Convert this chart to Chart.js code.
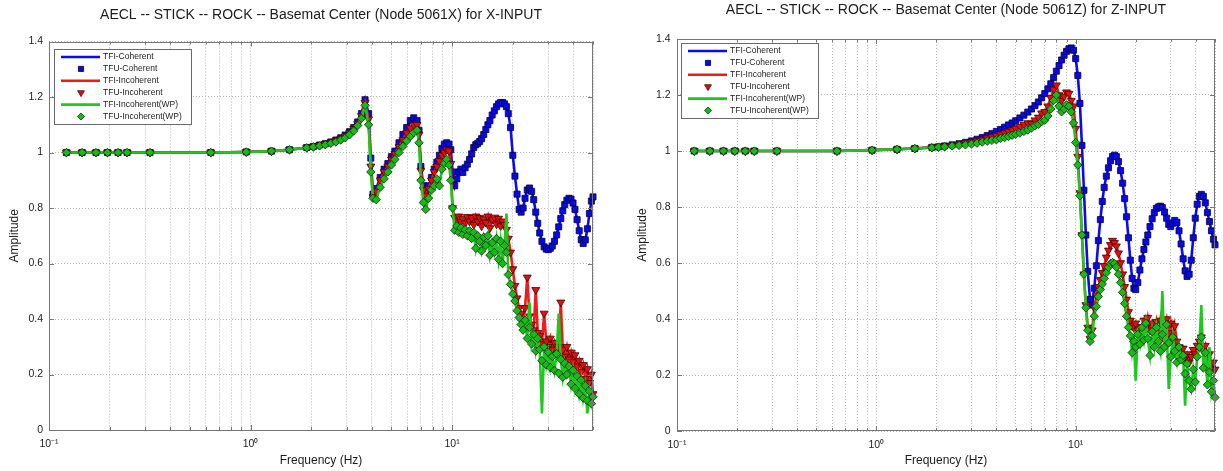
<!DOCTYPE html>
<html>
<head>
<meta charset="utf-8">
<title>AECL STICK ROCK - Basemat Center</title>
<script src="https://cdn.jsdelivr.net/npm/chart.js@4.4.1/dist/chart.umd.min.js"></script>
<style>
  html, body { margin: 0; padding: 0; background: #fff; }
  body { width: 1223px; height: 471px; position: relative; overflow: hidden; }
  canvas { position: absolute; top: 0; }
  #chartX { left: 0; }
  #chartZ { left: 610px; }
</style>
</head>
<body>
<canvas id="chartX" width="610" height="471"></canvas>
<canvas id="chartZ" width="613" height="471"></canvas>
<script>
// ---- data -------------------------------------------------------------
const seriesNames = ['TFI-Coherent', 'TFU-Coherent', 'TFI-Incoherent', 'TFU-Incoherent',
                     'TFI-Incoherent(WP)', 'TFU-Incoherent(WP)'];

const xTickValues = [0.1, 0.2, 0.3, 0.4, 0.5, 0.6, 0.7, 0.8, 0.9, 1, 2, 3, 4, 5, 6, 7, 8, 9,
                     10, 20, 30, 40, 50];
const decadeTicks = [0.1, 1, 10];
const decadeLabels = ['10⁻¹', '10⁰', '10¹'];

// X-INPUT, node 5061X
const freqX = [
  0.122, 0.146, 0.171, 0.195, 0.220, 0.244, 0.317, 0.635, 0.952, 1.27,
  1.56, 1.90, 2.05, 2.20, 2.35, 2.50, 2.65, 2.80, 2.95, 3.10,
  3.25, 3.40, 3.55, 3.70, 3.85, 3.95, 4.05, 4.20, 4.40, 4.60,
  4.80, 5.00, 5.20, 5.45, 5.70, 5.95, 6.20, 6.45, 6.70, 6.85,
  7.00, 7.20, 7.40, 7.65, 7.90, 8.15, 8.40, 8.65, 8.90, 9.15,
  9.40, 9.65, 9.85,
  10.05, 10.3, 10.55, 10.8, 11.05, 11.3, 11.6, 11.9, 12.2, 12.5,
  12.8, 13.1, 13.4, 13.7, 14.0, 14.35, 14.7, 15.05, 15.4, 15.8,
  16.2, 16.6, 17.0, 17.4, 17.8, 18.2, 18.6, 19.0, 19.5, 20.0,
  20.5, 21.0, 21.5, 22.0, 22.5, 23.0, 23.6, 24.2, 24.8, 25.4,
  26.0, 26.6, 27.2, 27.9, 28.6, 29.3, 30.0, 30.7, 31.4, 32.2,
  33.0, 33.8, 34.6, 35.4, 36.2, 37.1, 38.0, 38.9, 39.8, 40.7,
  41.7, 42.7, 43.7, 44.7, 45.8, 46.9, 48.0, 49.1, 50.0
];
const cohX = [
  1.000, 1.000, 1.000, 1.000, 1.000, 1.000, 1.000, 1.000, 1.002, 1.005,
  1.010, 1.018, 1.022, 1.027, 1.032, 1.038, 1.045, 1.053, 1.063, 1.075,
  1.090, 1.110, 1.140, 1.190, 1.140, 0.980, 0.850, 0.870, 0.910, 0.940,
  0.960, 0.985, 1.005, 1.035, 1.065, 1.090, 1.115, 1.125, 1.115, 1.080,
  0.950, 0.880, 0.855, 0.880, 0.910, 0.940, 0.965, 0.990, 1.015, 1.030,
  1.035, 1.030, 1.010,
  0.930, 0.880, 0.905, 0.930, 0.940, 0.928, 0.945, 0.958, 0.975, 0.995,
  1.018, 1.028, 1.033, 1.040, 1.050, 1.065, 1.083, 1.100, 1.115, 1.135,
  1.150, 1.165, 1.175, 1.180, 1.180, 1.175, 1.165, 1.140, 1.090, 0.990,
  0.915, 0.850, 0.795, 0.785, 0.800, 0.835, 0.865, 0.872, 0.860, 0.830,
  0.785, 0.745, 0.710, 0.680, 0.660, 0.652, 0.650, 0.655, 0.663, 0.680,
  0.703, 0.732, 0.762, 0.790, 0.812, 0.828, 0.835, 0.832, 0.818, 0.795,
  0.758, 0.718, 0.686, 0.672, 0.685, 0.725, 0.780, 0.825, 0.840
];
const incX = [
  1.000, 1.000, 1.000, 1.000, 1.000, 1.000, 1.000, 1.000, 1.002, 1.005,
  1.010, 1.018, 1.021, 1.026, 1.031, 1.036, 1.042, 1.049, 1.058, 1.070,
  1.085, 1.103, 1.132, 1.180, 1.120, 0.950, 0.840, 0.860, 0.900, 0.930,
  0.950, 0.975, 0.995, 1.020, 1.045, 1.070, 1.088, 1.100, 1.100, 1.065,
  0.935, 0.865, 0.845, 0.870, 0.900, 0.930, 0.950, 0.970, 0.990, 1.000,
  1.010, 1.005, 0.960,
  0.800, 0.765, 0.755, 0.770, 0.750, 0.762, 0.745, 0.768, 0.752, 0.765,
  0.740, 0.770, 0.752, 0.765, 0.735, 0.760, 0.748, 0.770, 0.728, 0.758,
  0.766, 0.742, 0.762, 0.735, 0.752, 0.740, 0.722, 0.690, 0.640, 0.580,
  0.520, 0.475, 0.440, 0.420, 0.395, 0.440, 0.550, 0.410, 0.380, 0.360,
  0.505, 0.350, 0.340, 0.310, 0.420, 0.320, 0.300, 0.330, 0.290, 0.315,
  0.275, 0.300, 0.460, 0.290, 0.265, 0.300, 0.255, 0.280, 0.245, 0.270,
  0.230, 0.250, 0.210, 0.235, 0.185, 0.220, 0.170, 0.200, 0.130
];
const wpLineX = [
  1.000, 1.000, 1.000, 1.000, 1.000, 1.000, 1.000, 1.000, 1.002, 1.005,
  1.010, 1.017, 1.020, 1.024, 1.028, 1.033, 1.038, 1.045, 1.053, 1.064,
  1.078, 1.097, 1.123, 1.170, 1.100, 0.930, 0.835, 0.830, 0.875, 0.905,
  0.930, 0.955, 0.975, 1.000, 1.022, 1.042, 1.058, 1.072, 1.080, 1.035,
  0.900, 0.820, 0.795, 0.835, 0.865, 0.880, 0.905, 0.880, 0.940, 0.960,
  0.975, 0.955, 0.900,
  0.800, 0.720, 0.735, 0.712, 0.728, 0.705, 0.722, 0.700, 0.718, 0.690,
  0.712, 0.655, 0.700, 0.680, 0.645, 0.695, 0.665, 0.700, 0.630, 0.675,
  0.640, 0.690, 0.615, 0.680, 0.600, 0.665, 0.780, 0.560, 0.525, 0.490,
  0.465, 0.430, 0.405, 0.380, 0.360, 0.395, 0.330, 0.460, 0.310, 0.345,
  0.285, 0.330, 0.290, 0.060, 0.300, 0.235, 0.280, 0.225, 0.265, 0.215,
  0.275, 0.420, 0.255, 0.190, 0.240, 0.200, 0.230, 0.165, 0.215, 0.150,
  0.195, 0.130, 0.180, 0.115, 0.160, 0.060, 0.140, 0.095, 0.120
];
const wpX = [
  1.000, 1.000, 1.000, 1.000, 1.000, 1.000, 1.000, 1.000, 1.002, 1.005,
  1.010, 1.017, 1.020, 1.024, 1.028, 1.033, 1.038, 1.045, 1.053, 1.064,
  1.078, 1.097, 1.123, 1.170, 1.100, 0.930, 0.835, 0.830, 0.875, 0.905,
  0.930, 0.955, 0.975, 1.000, 1.022, 1.042, 1.058, 1.072, 1.080, 1.035,
  0.900, 0.820, 0.795, 0.835, 0.865, 0.880, 0.905, 0.880, 0.940, 0.960,
  0.975, 0.955, 0.900,
  0.800, 0.720, 0.735, 0.712, 0.728, 0.705, 0.722, 0.700, 0.718, 0.690,
  0.712, 0.655, 0.700, 0.680, 0.645, 0.695, 0.665, 0.700, 0.630, 0.675,
  0.640, 0.690, 0.615, 0.680, 0.600, 0.665, 0.640, 0.560, 0.525, 0.490,
  0.465, 0.430, 0.405, 0.380, 0.360, 0.395, 0.330, 0.370, 0.310, 0.345,
  0.285, 0.330, 0.290, 0.250, 0.300, 0.235, 0.280, 0.225, 0.265, 0.215,
  0.275, 0.205, 0.255, 0.190, 0.240, 0.200, 0.230, 0.165, 0.215, 0.150,
  0.195, 0.130, 0.180, 0.115, 0.160, 0.105, 0.140, 0.095, 0.120
];

// Z-INPUT, node 5061Z
const freqZ = [
  0.122, 0.146, 0.171, 0.195, 0.220, 0.244, 0.317, 0.635, 0.952, 1.27,
  1.56, 1.90, 2.05, 2.20, 2.40, 2.60, 2.80, 3.00, 3.20, 3.40,
  3.60, 3.80, 4.00, 4.20, 4.40, 4.60, 4.80, 5.00, 5.25, 5.50,
  5.75, 6.00, 6.25, 6.50, 6.75, 7.00, 7.25, 7.50, 7.75, 8.00,
  8.25, 8.50, 8.75, 9.00, 9.25, 9.50, 9.75, 10.0, 10.25, 10.5,
  10.75, 11.0, 11.25, 11.5, 11.8, 12.1,
  12.4, 12.7, 13.0, 13.3, 13.6, 13.9, 14.25, 14.6, 14.95, 15.3,
  15.65, 16.0, 16.4, 16.8, 17.2, 17.6, 18.0, 18.4, 18.8, 19.2,
  19.6, 20.0, 20.5, 21.0, 21.5, 22.0, 22.5, 23.0, 23.6, 24.2,
  24.8, 25.4, 26.0, 26.6, 27.2, 27.9, 28.6, 29.3, 30.0, 30.7,
  31.4, 32.2, 33.0, 33.8, 34.6, 35.4, 36.2, 37.1, 38.0, 38.9,
  39.8, 40.7, 41.7, 42.7, 43.7, 44.7, 45.8, 46.9, 48.0, 49.1,
  50.0
];
const cohZ = [
  1.000, 1.000, 1.000, 1.000, 1.000, 1.000, 1.000, 1.000, 1.003, 1.006,
  1.009, 1.013, 1.015, 1.018, 1.022, 1.026, 1.031, 1.036, 1.042, 1.048,
  1.055, 1.062, 1.070, 1.077, 1.085, 1.093, 1.100, 1.108, 1.118, 1.128,
  1.139, 1.150, 1.162, 1.175, 1.190, 1.205, 1.222, 1.240, 1.262, 1.285,
  1.305, 1.325, 1.342, 1.356, 1.365, 1.368, 1.360, 1.330, 1.270, 1.170,
  1.020, 0.860, 0.700, 0.570, 0.470, 0.450,
  0.510, 0.590, 0.680, 0.755, 0.820, 0.870, 0.910, 0.940, 0.965, 0.980,
  0.985, 0.980, 0.962, 0.930, 0.885, 0.830, 0.765, 0.690, 0.610, 0.545,
  0.510, 0.505, 0.530, 0.575, 0.615, 0.648, 0.675, 0.700, 0.730, 0.758,
  0.780, 0.795, 0.800, 0.803, 0.798, 0.782, 0.760, 0.738, 0.730, 0.742,
  0.752, 0.745, 0.715, 0.668, 0.615, 0.572, 0.552, 0.560, 0.610, 0.690,
  0.760, 0.810, 0.838, 0.845, 0.838, 0.815, 0.780, 0.748, 0.715, 0.685,
  0.665
];
const incZ = [
  1.000, 1.000, 1.000, 1.000, 1.000, 1.000, 1.000, 1.000, 1.003, 1.006,
  1.009, 1.013, 1.015, 1.017, 1.020, 1.024, 1.028, 1.032, 1.037, 1.041,
  1.046, 1.050, 1.055, 1.060, 1.065, 1.070, 1.075, 1.080, 1.087, 1.094,
  1.100, 1.098, 1.110, 1.120, 1.135, 1.140, 1.160, 1.190, 1.220, 1.235,
  1.200, 1.180, 1.195, 1.210, 1.205, 1.180, 1.160, 1.080, 0.980, 0.850,
  0.700, 0.560, 0.450, 0.370, 0.330, 0.360,
  0.440, 0.485, 0.515, 0.540, 0.565, 0.590, 0.620, 0.645, 0.665, 0.680,
  0.672, 0.660, 0.635, 0.600, 0.560, 0.515, 0.470, 0.425, 0.395, 0.375,
  0.368, 0.385, 0.360, 0.340, 0.372, 0.395, 0.370, 0.405, 0.360, 0.385,
  0.350, 0.390, 0.340, 0.395, 0.335, 0.370, 0.400, 0.350, 0.385, 0.330,
  0.375, 0.320, 0.300, 0.280, 0.295, 0.260, 0.275, 0.245, 0.265, 0.290,
  0.275, 0.305, 0.320, 0.335, 0.285, 0.305, 0.255, 0.275, 0.225, 0.245,
  0.220
];
const wpLineZ = [
  1.000, 1.000, 1.000, 1.000, 1.000, 1.000, 1.000, 1.000, 1.003, 1.006,
  1.009, 1.012, 1.014, 1.015, 1.018, 1.020, 1.022, 1.025, 1.028, 1.032,
  1.035, 1.038, 1.040, 1.045, 1.048, 1.052, 1.056, 1.060, 1.064, 1.070,
  1.075, 1.082, 1.090, 1.095, 1.105, 1.110, 1.125, 1.150, 1.180, 1.200,
  1.160, 1.140, 1.150, 1.165, 1.160, 1.140, 1.100, 1.030, 0.950, 0.840,
  0.700, 0.560, 0.440, 0.360, 0.320, 0.340,
  0.410, 0.445, 0.480, 0.505, 0.525, 0.545, 0.565, 0.585, 0.598, 0.602,
  0.598, 0.585, 0.560, 0.530, 0.495, 0.455, 0.410, 0.370, 0.340, 0.280,
  0.320, 0.180, 0.345, 0.310, 0.370, 0.325, 0.385, 0.330, 0.270, 0.355,
  0.300, 0.370, 0.320, 0.285, 0.500, 0.300, 0.380, 0.150, 0.265, 0.335,
  0.285, 0.245, 0.300, 0.255, 0.270, 0.090, 0.240, 0.180, 0.150, 0.220,
  0.175, 0.265, 0.300, 0.450, 0.225, 0.280, 0.165, 0.300, 0.140, 0.180,
  0.120
];
const wpZ = [
  1.000, 1.000, 1.000, 1.000, 1.000, 1.000, 1.000, 1.000, 1.003, 1.006,
  1.009, 1.012, 1.014, 1.015, 1.018, 1.020, 1.022, 1.025, 1.028, 1.032,
  1.035, 1.038, 1.040, 1.045, 1.048, 1.052, 1.056, 1.060, 1.064, 1.070,
  1.075, 1.082, 1.090, 1.095, 1.105, 1.110, 1.125, 1.150, 1.180, 1.200,
  1.160, 1.140, 1.150, 1.165, 1.160, 1.140, 1.100, 1.030, 0.950, 0.840,
  0.700, 0.560, 0.440, 0.360, 0.320, 0.340,
  0.410, 0.445, 0.480, 0.505, 0.525, 0.545, 0.565, 0.585, 0.598, 0.602,
  0.598, 0.585, 0.560, 0.530, 0.495, 0.455, 0.410, 0.370, 0.340, 0.280,
  0.320, 0.300, 0.345, 0.310, 0.370, 0.325, 0.385, 0.330, 0.270, 0.355,
  0.300, 0.370, 0.320, 0.285, 0.345, 0.300, 0.380, 0.315, 0.265, 0.335,
  0.285, 0.245, 0.300, 0.255, 0.270, 0.205, 0.240, 0.180, 0.150, 0.220,
  0.175, 0.265, 0.300, 0.335, 0.225, 0.280, 0.165, 0.210, 0.140, 0.180,
  0.120
];

// ---- styling ----------------------------------------------------------
const FONT = '"Liberation Sans", Arial, Helvetica, sans-serif';
const TEXT = '#1c1c1c';
const GRID = '#b4b4b4';
const FRAME = '#767676';
Chart.defaults.font.family = FONT;

// MATLAB-like axes box with inward tick marks
const axesFrame = {
  id: 'axesFrame',
  afterDatasetsDraw(chart) {
    const { ctx, chartArea: a, scales: { x, y } } = chart;
    ctx.save();
    ctx.strokeStyle = FRAME;
    ctx.lineWidth = 1;
    ctx.beginPath();
    x.ticks.forEach(t => {
      const px = Math.round(x.getPixelForValue(t.value)) + 0.5;
      const len = decadeTicks.includes(t.value) ? 5 : 3;
      ctx.moveTo(px, a.bottom); ctx.lineTo(px, a.bottom - len);
      ctx.moveTo(px, a.top); ctx.lineTo(px, a.top + len);
    });
    y.ticks.forEach(t => {
      const py = Math.round(y.getPixelForValue(t.value)) + 0.5;
      ctx.moveTo(a.left, py); ctx.lineTo(a.left + 5, py);
      ctx.moveTo(a.right, py); ctx.lineTo(a.right - 5, py);
    });
    ctx.stroke();
    ctx.strokeRect(Math.round(a.left) + 0.5, Math.round(a.top) + 0.5,
                   Math.round(a.width) - 1, Math.round(a.height) - 1);
    ctx.restore();
  }
};

// boxed legend in the upper-left corner of the plot
const boxLegend = {
  id: 'boxLegend',
  afterDraw(chart, args, opts) {
    const { ctx, chartArea } = chart;
    const left = Math.round(chartArea.left + opts.dx);
    const top = Math.round(chartArea.top + opts.dy);
    ctx.save();
    ctx.fillStyle = '#ffffff';
    ctx.fillRect(left, top, opts.width, opts.height);
    ctx.strokeStyle = '#6a6a6a';
    ctx.lineWidth = 1;
    ctx.strokeRect(left + 0.5, top + 0.5, opts.width, opts.height);
    ctx.font = opts.fontSize + 'px ' + FONT;
    ctx.textBaseline = 'middle';
    chart.data.datasets.forEach((ds, i) => {
      const y = top + opts.firstRow + i * opts.rowGap;
      if (ds.showLine === false) {
        ctx.fillStyle = ds.backgroundColor;
        ctx.strokeStyle = ds.borderColor;
        ctx.lineWidth = ds.pointBorderWidth;
        Chart.helpers.drawPoint(ctx, {
          pointStyle: ds.pointStyle,
          rotation: ds.pointRotation || 0,
          radius: ds.pointRadius * 0.85,
          borderWidth: ds.pointBorderWidth
        }, left + 27, y);
      } else {
        ctx.strokeStyle = ds.borderColor;
        ctx.lineWidth = ds.borderWidth;
        ctx.beginPath();
        ctx.moveTo(left + 7, y);
        ctx.lineTo(left + 46, y);
        ctx.stroke();
      }
      ctx.fillStyle = TEXT;
      ctx.fillText(ds.label, left + 49, y);
    });
    ctx.restore();
  }
};

function buildChart(canvasId, title, freq, coh, inc, wpLine, wp, frame) {
  const pts = ys => freq.map((f, i) => ({ x: f, y: ys[i] }));
  const lineSet = (i, ys, color, order) => ({
    label: seriesNames[i], data: pts(ys), borderColor: color, backgroundColor: color,
    borderWidth: 2.6, pointRadius: 0, order: order, clip: false
  });
  const markSet = (i, ys, fill, edge, style, radius, rotation, order) => ({
    label: seriesNames[i], data: pts(ys), showLine: false,
    backgroundColor: fill, borderColor: edge,
    pointStyle: style, pointRadius: radius, pointRotation: rotation,
    pointBorderWidth: 0.8, order: order, clip: false
  });

  return new Chart(document.getElementById(canvasId), {
    type: 'line',
    data: {
      datasets: [
        lineSet(0, coh, '#0b0bf2', 6),
        markSet(1, coh, '#0a0ae0', '#00004a', 'rect', 4.3, 0, 5),
        lineSet(2, inc, '#f01a1a', 4),
        markSet(3, inc, '#e01010', '#4a0000', 'triangle', 4.6, 180, 3),
        lineSet(4, wpLine, '#1ec81e', 2),
        markSet(5, wp, '#19b919', '#0b300b', 'rectRot', 4.2, 0, 1)
      ]
    },
    options: {
      responsive: false,
      animation: false,
      events: [],
      layout: { padding: { top: 0, right: frame.padRight, bottom: 0, left: 0 } },
      plugins: {
        legend: { display: false },
        tooltip: { enabled: false },
        title: {
          display: true, text: title, fullSize: false, color: TEXT,
          font: { size: 14, weight: 'normal' },
          padding: { top: frame.titleTop, bottom: frame.titleBottom }
        },
        boxLegend: {
          dx: frame.legendDx, dy: frame.legendDy, width: 137, height: 75,
          firstRow: 8, rowGap: 11.9, fontSize: 8.5
        }
      },
      scales: {
        x: {
          type: 'logarithmic', min: 0.1, max: 50,
          afterBuildTicks: s => { s.ticks = xTickValues.map(v => ({ value: v })); },
          afterFit: s => { s.height = frame.xAxisHeight; },
          ticks: {
            autoSkip: false, maxRotation: 0, minRotation: 0, padding: 8, color: TEXT,
            font: { size: 10.5 },
            callback: v => {
              const k = decadeTicks.indexOf(v);
              return k >= 0 ? decadeLabels[k] : '';
            }
          },
          grid: { color: GRID, lineWidth: 1, drawTicks: false },
          border: { display: false, dash: [1, 2] },
          title: {
            display: true, text: 'Frequency (Hz)', color: TEXT,
            font: { size: 12 }, padding: { top: 0, bottom: frame.xTitleBottom }
          }
        },
        y: {
          min: 0, max: 1.4,
          afterFit: s => { s.width = frame.yAxisWidth; },
          ticks: {
            stepSize: 0.2, padding: frame.yTickPad, color: TEXT, font: { size: 10.5 },
            callback: v => String(Number(v.toFixed(1)))
          },
          grid: { color: GRID, lineWidth: 1, drawTicks: false },
          border: { display: false, dash: [1, 2] },
          title: {
            display: true, text: 'Amplitude', color: TEXT,
            font: { size: 12 }, padding: { top: frame.yTitleTop, bottom: 0 }
          }
        }
      }
    },
    plugins: [axesFrame, boxLegend]
  });
}

buildChart('chartX',
  'AECL -- STICK -- ROCK -- Basemat Center (Node 5061X) for X-INPUT',
  freqX, cohX, incX, wpLineX, wpX,
  { padRight: 17, titleTop: 6.6, titleBottom: 18.1, xAxisHeight: 41, yAxisWidth: 49,
    yTickPad: 6, yTitleTop: 7.8, xTitleBottom: 3.3, legendDx: 5, legendDy: 7.5 });

buildChart('chartZ',
  'AECL -- STICK -- ROCK -- Basemat Center (Node 5061Z) for Z-INPUT',
  freqZ, cohZ, incZ, wpLineZ, wpZ,
  { padRight: 2, titleTop: 1.6, titleBottom: 20.6, xAxisHeight: 40, yAxisWidth: 67,
    yTickPad: 6.5, yTitleTop: 25.8, xTitleBottom: 3, legendDx: 3.7, legendDy: 4.3 });
</script>
</body>
</html>
